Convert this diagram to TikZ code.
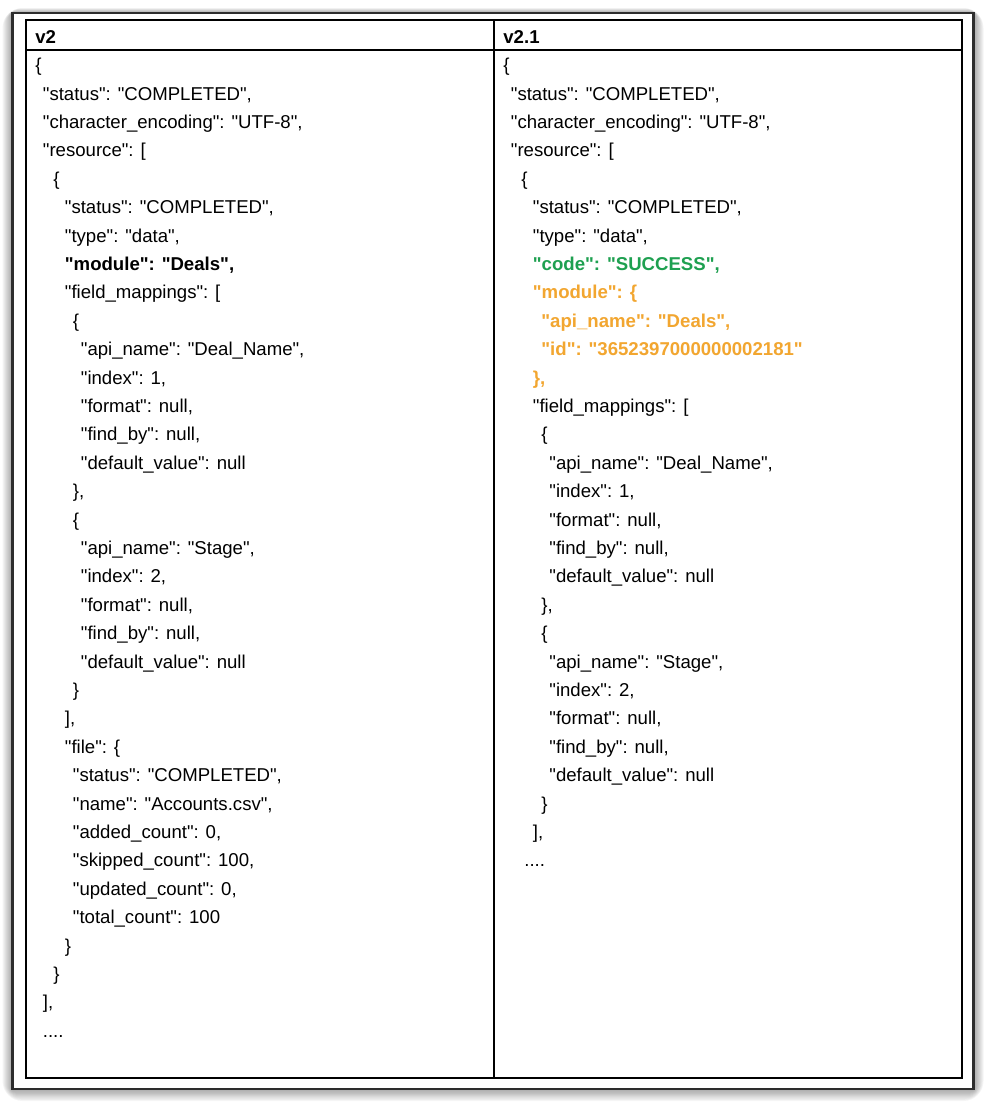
\documentclass[tikz,border=0pt]{standalone}
\usepackage{fontspec}
\newfontfamily\jsonfont{Liberation Sans}
\definecolor{framegray}{RGB}{45,45,45}
\definecolor{okgreen}{RGB}{30,160,80}
\definecolor{modorange}{RGB}{242,166,48}
\begin{document}
\begin{tikzpicture}[x=0.5pt,y=-0.5pt,
  txt/.style={anchor=base west,inner sep=0pt,font=\jsonfont\fontsize{9.3}{11}\selectfont},
  hdr/.style={txt,font=\jsonfont\fontsize{9.3}{11}\selectfont\bfseries},
  added/.style={hdr,text=okgreen},
  changed/.style={hdr,text=modorange},
  grid/.style={line width=0.8pt,black}]
\useasboundingbox (0,0) rectangle (987,1103);
% shadow and frame
\foreach \s in {1,...,10}
  \fill[black,opacity=0.04,rounded corners=\s] ({12.5-\s},{13-0.5*\s}) rectangle ({973.5+\s},{1089+1.2*\s});
\draw[line width=1.25pt,draw=framegray,fill=white] (12.5,13) rectangle (973.5,1089);
% table
\draw[grid] (26,20) rectangle (962,1078);
\draw[grid] (26,50) -- (962,50);
\draw[grid] (494,20) -- (494,1078);
\node[hdr] (hl) at (35,43) {v2};
\node[hdr] (hr) at (503,43) {v2.1};
% v2
\node[txt] (l1) at (35,71.6) {\{};
\node[txt] (l2) at (42.5,100) {"status": "COMPLETED",};
\node[txt] (l3) at (42.5,128.4) {"character\_encoding": "UTF-8",};
\node[txt] (l4) at (42.5,156.8) {"resource": [};
\node[txt] (l5) at (53,185.2) {\{};
\node[txt] (l6) at (64.5,213.6) {"status": "COMPLETED",};
\node[txt] (l7) at (64.5,242) {"type": "data",};
\node[hdr] (l8) at (64.5,270.4) {"module": "Deals",};
\node[txt] (l9) at (64.5,298.8) {"field\_mappings": [};
\node[txt] (l10) at (72.5,327.2) {\{};
\node[txt] (l11) at (80.5,355.6) {"api\_name": "Deal\_Name",};
\node[txt] (l12) at (80.5,384) {"index": 1,};
\node[txt] (l13) at (80.5,412.4) {"format": null,};
\node[txt] (l14) at (80.5,440.8) {"find\_by": null,};
\node[txt] (l15) at (80.5,469.2) {"default\_value": null};
\node[txt] (l16) at (72.5,497.6) {\},};
\node[txt] (l17) at (72.5,526) {\{};
\node[txt] (l18) at (80.5,554.4) {"api\_name": "Stage",};
\node[txt] (l19) at (80.5,582.8) {"index": 2,};
\node[txt] (l20) at (80.5,611.2) {"format": null,};
\node[txt] (l21) at (80.5,639.6) {"find\_by": null,};
\node[txt] (l22) at (80.5,668) {"default\_value": null};
\node[txt] (l23) at (72.5,696.4) {\}};
\node[txt] (l24) at (64.5,724.8) {],};
\node[txt] (l25) at (64.5,753.2) {"file": \{};
\node[txt] (l26) at (72.5,781.6) {"status": "COMPLETED",};
\node[txt] (l27) at (72.5,810) {"name": "Accounts.csv",};
\node[txt] (l28) at (72.5,838.4) {"added\_count": 0,};
\node[txt] (l29) at (72.5,866.8) {"skipped\_count": 100,};
\node[txt] (l30) at (72.5,895.2) {"updated\_count": 0,};
\node[txt] (l31) at (72.5,923.6) {"total\_count": 100};
\node[txt] (l32) at (64.5,952) {\}};
\node[txt] (l33) at (53,980.4) {\}};
\node[txt] (l34) at (42.5,1008.8) {],};
\node[txt] (l35) at (42.5,1037.2) {....};
% v2.1
\node[txt] (r1) at (503,71.6) {\{};
\node[txt] (r2) at (510.5,100) {"status": "COMPLETED",};
\node[txt] (r3) at (510.5,128.4) {"character\_encoding": "UTF-8",};
\node[txt] (r4) at (510.5,156.8) {"resource": [};
\node[txt] (r5) at (521,185.2) {\{};
\node[txt] (r6) at (532.5,213.6) {"status": "COMPLETED",};
\node[txt] (r7) at (532.5,242) {"type": "data",};
\node[added] (r8) at (532.5,270.4) {"code": "SUCCESS",};
\node[changed] (r9) at (532.5,298.8) {"module": \{};
\node[changed] (r10) at (541,327.2) {"api\_name": "Deals",};
\node[changed] (r11) at (541,355.6) {"id": "3652397000000002181"};
\node[changed] (r12) at (532.5,384) {\},};
\node[txt] (r13) at (532.5,412.4) {"field\_mappings": [};
\node[txt] (r14) at (541,440.8) {\{};
\node[txt] (r15) at (549,469.2) {"api\_name": "Deal\_Name",};
\node[txt] (r16) at (549,497.6) {"index": 1,};
\node[txt] (r17) at (549,526) {"format": null,};
\node[txt] (r18) at (549,554.4) {"find\_by": null,};
\node[txt] (r19) at (549,582.8) {"default\_value": null};
\node[txt] (r20) at (541,611.2) {\},};
\node[txt] (r21) at (541,639.6) {\{};
\node[txt] (r22) at (549,668) {"api\_name": "Stage",};
\node[txt] (r23) at (549,696.4) {"index": 2,};
\node[txt] (r24) at (549,724.8) {"format": null,};
\node[txt] (r25) at (549,753.2) {"find\_by": null,};
\node[txt] (r26) at (549,781.6) {"default\_value": null};
\node[txt] (r27) at (541,810) {\}};
\node[txt] (r28) at (532.5,838.4) {],};
\node[txt] (r29) at (524,866.8) {....};
\end{tikzpicture}
\end{document}
